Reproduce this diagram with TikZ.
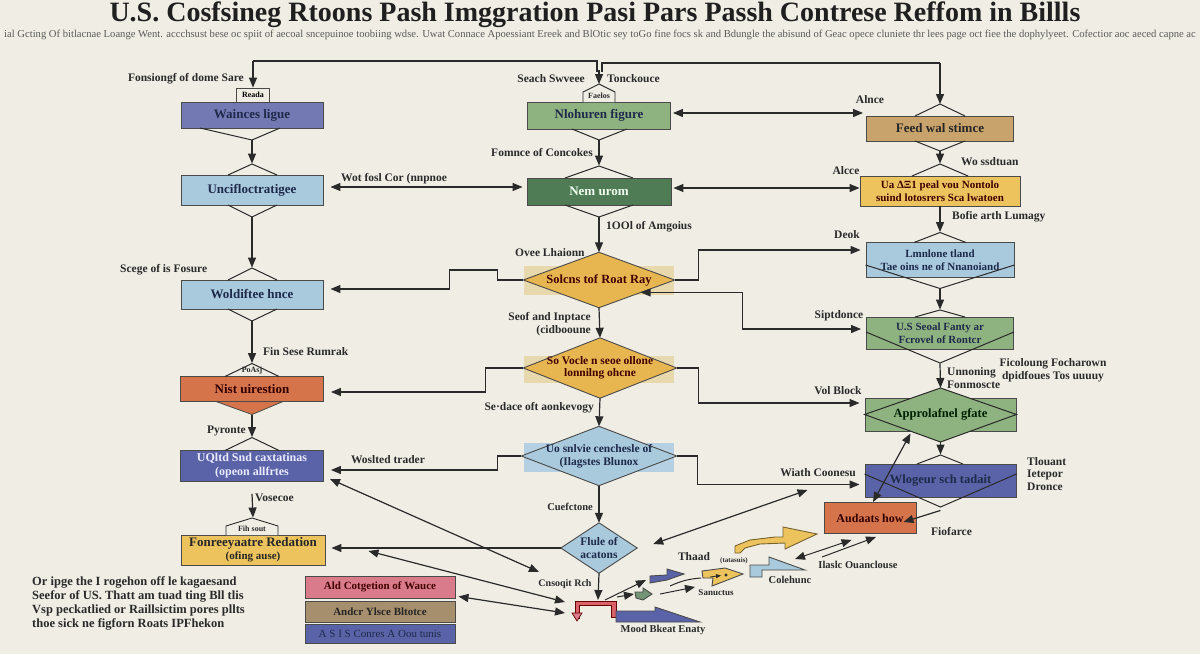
\documentclass[tikz,border=0pt]{standalone}
\usepackage{fontspec}
\setmainfont{Liberation Serif}
\usetikzlibrary{arrows.meta,calc}
\definecolor{bg}{HTML}{EFEDE4}
\definecolor{ink}{HTML}{2A2A2A}
\definecolor{boxline}{HTML}{4A4A48}
\definecolor{navytext}{HTML}{1E2A4A}
\definecolor{cnavy}{HTML}{7379B2}
\definecolor{lblue}{HTML}{A9C9DD}
\definecolor{lgreen}{HTML}{8FB380}
\definecolor{dgreen}{HTML}{4F7B55}
\definecolor{gold}{HTML}{E8B650}
\definecolor{goldbg}{HTML}{E7D8AE}
\definecolor{bluebg}{HTML}{B5D0E2}
\definecolor{tanc}{HTML}{C8A36B}
\definecolor{yel}{HTML}{ECC35D}
\definecolor{orng}{HTML}{D5744B}
\definecolor{bpur}{HTML}{5A63A7}
\definecolor{pinkc}{HTML}{DA7B8C}
\definecolor{brwn}{HTML}{A68F6D}
\definecolor{redb}{HTML}{D9626A}
\definecolor{subt}{HTML}{5A5A58}
\begin{document}
\begin{tikzpicture}[x=1pt,y=-1pt,
  lab/.style={font=\fontsize{11.5}{13}\selectfont\bfseries, text=ink, inner sep=0pt, align=left},
  slab/.style={font=\fontsize{9}{10}\selectfont\bfseries, text=ink, inner sep=0pt},
  box/.style={draw=boxline, line width=0.9pt, inner sep=0pt, align=center, font=\fontsize{13}{15}\selectfont\bfseries, text=navytext},
  sbox/.style={box, font=\fontsize{11}{12.5}\selectfont\bfseries},
  holder/.style={inner sep=0pt},
  dtext/.style={align=center, font=\fontsize{12.5}{14}\selectfont\bfseries, text=navytext, inner sep=0pt},
  arr/.style={draw=ink, line width=1.2pt, -{Triangle[length=10pt,width=8pt]}},
  darr/.style={draw=ink, line width=1.2pt, {Triangle[length=10pt,width=8pt]}-{Triangle[length=10pt,width=8pt]}},
  ln/.style={draw=ink, line width=1.2pt},
  chev/.style={draw=ink, line width=1pt},
  shp/.style={draw=boxline, line width=0.9pt},
]
\useasboundingbox (0,0) rectangle (1200,654);
\fill[bg] (0,0) rectangle (1200,654);

% title and subtitle
\node[font=\fontsize{28}{30}\selectfont\bfseries, text=black!88, anchor=base, inner sep=0pt] (title) at (595,21)
  {U.S. Cosfsineg Rtoons Pash Imggration Pasi Pars Passh Contrese Reffom in Billls};
\node[font=\fontsize{10.6}{11}\selectfont, text=subt, inner sep=0pt] (sub) at (600,35)
  {ial Gcting Of bitlacnae Loange Went. accchsust bese oc spiit of aecoal sncepuinoe toobiing wdse. Uwat Connace Apoessiant Ereek and BlOtic sey toGo fine focs sk and Bdungle the abisund of Geac opece cluniete thr lees page oct fiee the dophylyeet. Cofectior aoc aeced capne ac};

% ---------------- left column
\node[box, fill=cnavy, minimum width=142pt, minimum height=26pt] (b1) at (252,115) {Wainces ligue};
\node[box, fill=lblue, minimum width=142pt, minimum height=30pt] (b2) at (252,190) {Uncifloctratigee};
\node[box, fill=lblue, minimum width=142pt, minimum height=29pt] (b3) at (252,294.5) {Woldiftee hnce};
\node[box, fill=orng, text=black!80!red, minimum width=143pt, minimum height=25pt] (b4) at (252,389) {Nist uirestion};
\node[box, fill=bpur, text=white!92!blue, font=\fontsize{12}{14}\selectfont\bfseries, minimum width=143pt, minimum height=31pt] (b5) at (252,466) {UQltd Snd caxtatinas\\(opeon allfrtes};
\node[box, fill=yel, text=black!85, minimum width=144pt, minimum height=30pt] (b6) at (253,550) {Fonreeyaatre Redation\\[-2pt]{\fontsize{11}{12}\selectfont(ofing ause)}};

\node[draw=boxline, line width=0.8pt, fill=bg, minimum width=33pt, minimum height=14pt, inner sep=0pt, font=\fontsize{8}{9}\selectfont\bfseries] (tabL) at (253,95) {Reada};

\draw[chev] (200,128)--(252,140)--(280,128);
\draw[chev] (228,175)--(252,164)--(277,175);
\draw[chev] (228,205)--(252,217)--(277,205);
\draw[chev] (228,280)--(252,268)--(277,280);
\draw[chev] (228,309)--(252,321)--(277,309);
\draw[chev] (225,376.5)--(252,363.5)--(279,376.5);
\node[slab, font=\fontsize{8}{9}\selectfont\bfseries] (roofL) at (252,371) {PoAsj};
\filldraw[fill=orng, draw=boxline, line width=0.8pt] (216,401.5)--(252,414.5)--(283,401.5)--cycle;
\draw[chev] (225,450.5)--(252,437.5)--(279,450.5);
\filldraw[fill=bg, draw=ink, line width=0.9pt] (226,535)--(226,526)--(252,518)--(278,526)--(278,535);
\node[slab, font=\fontsize{8}{9}\selectfont\bfseries] (tabF) at (252,528.5) {Fih sout};

\draw[arr] ($(b1.south)+(0,12)$) -- ($(b2.north)+(0,-11)$);
\draw[arr] ($(b2.south)+(0,12)$) -- ($(b3.north)+(0,-12)$);
\draw[arr] ($(b3.south)+(0,12)$) -- ($(b4.north)+(0,-13)$);
\draw[arr] ($(b4.south)+(0,13)$) -- ($(b5.north)+(0,-13)$);
\draw[arr] ($(b5.south)+(0,12)$) -- ($(b6.north)+(0,-17)$);

% ---------------- middle column
\node[box, fill=lgreen, minimum width=143pt, minimum height=27pt] (m1) at (599,115.5) {Nlohuren figure};
\node[box, fill=dgreen, text=white!94!green, minimum width=144pt, minimum height=27pt] (m2) at (599,191.5) {Nem urom};
\filldraw[fill=bg, draw=ink, line width=0.9pt] (583,102)--(583,92)--(599,84)--(615,92)--(615,102);
\coordinate (tm) at (599,84);
\node[slab, font=\fontsize{8}{9}\selectfont\bfseries] (tabM) at (599,95.5) {Faelos};
\draw[chev] (572,129)--(599,140)--(627,129);
\draw[chev] (565,178)--(599,166)--(633,178);
\draw[chev] (565,205)--(599,217)--(633,205);

\node[holder, minimum width=151pt, minimum height=55pt] (d1) at (599,280) {};
\node[holder, minimum width=153pt, minimum height=60pt] (d2) at (600,368) {};
\node[holder, minimum width=155pt, minimum height=59pt] (d3) at (599,456) {};
\node[holder, minimum width=76pt, minimum height=50pt] (d4) at (599,548) {};
\fill[goldbg] (524,266) rectangle (674,295);
\fill[goldbg] (524,356) rectangle (674,383);
\fill[bluebg] (524,443) rectangle (674,472);
\filldraw[fill=gold, shp] (d1.west)--(d1.north)--(d1.east)--(d1.south)--cycle;
\filldraw[fill=gold, shp] (d2.west)--(d2.north)--(d2.east)--(d2.south)--cycle;
\filldraw[fill=lblue, shp] (d3.west)--(d3.north)--(d3.east)--(d3.south)--cycle;
\filldraw[fill=lblue, shp] (d4.west)--(d4.north)--(d4.east)--(d4.south)--cycle;
\node[dtext, text=black!75!red] at (d1) {Solcns tof Roat Ray};
\node[dtext, text=black!75!red, font=\fontsize{11.5}{12.5}\selectfont\bfseries] at (d2) {So Vocle n seoe ollone\\lonnilng ohcne};
\node[dtext, font=\fontsize{11.5}{12.5}\selectfont\bfseries] at (d3) {Uo snlvie cenchesle of\\(Ilagstes Blunox};
\node[dtext, font=\fontsize{11.5}{12.5}\selectfont\bfseries] at (d4) {Flule of\\acatons};

\draw[arr] ($(m1.south)+(0,11)$) -- ($(m2.north)+(0,-12)$);
\draw[arr] ($(m2.south)+(0,12)$) -- (d1.north);
\draw[arr] (d1.south) -- (d2.north);
\draw[arr] (d2.south) -- (d3.north);
\draw[arr] (d3.south) -- (d4.north);

% ---------------- right column
\node[box, fill=tanc, text=black!85, minimum width=147pt, minimum height=25pt] (r1) at (940,128.5) {Feed wal stimce};
\node[sbox, fill=yel, text=black!75!red, minimum width=160pt, minimum height=30pt] (r2) at (940,191) {Ua ΔΞ1 peal vou Nontolo\\suind lotosrers Sca lwatoen};
\node[sbox, fill=lblue, minimum width=148pt, minimum height=35pt] (r3) at (940,260) {Lmnlone tland\\Tae oins ne of Nnanoiand};
\node[sbox, fill=lgreen, minimum width=147pt, minimum height=32pt] (r4) at (940,333) {U.S Seoal Fanty ar\\Fcrovel of Rontcr};
\node[box, fill=lgreen, minimum width=151pt, minimum height=33pt] (r5) at (940.5,414.5) {};
\node[box, fill=bpur, minimum width=151pt, minimum height=33pt] (r6) at (940.5,480.5) {};
\node[box, fill=orng, text=black!80!red, font=\fontsize{12}{14}\selectfont\bfseries, minimum width=92pt, minimum height=31pt] (r7) at (870,518) {Audaats how};
\coordinate (tr) at (940,104);

\draw[chev] (915,116)--(940,104)--(965,116);
\draw[chev] (915,141)--(940,151)--(965,141);
\draw[chev] (912,176)--(940,164)--(968,176);
\draw[chev] (914,242.5)--(940,232.5)--(966,242.5);
\draw[chev] (r3.west |- 0,265)--(940,288.5)--(r3.east |- 0,265);
\draw[chev] (915,317)--(940,310)--(965,317);
\draw[chev] (r4.west |- 0,332)--(940,363)--(r4.east |- 0,332);
\filldraw[fill=lgreen, draw=ink, line width=1pt] (r5.west)--(940.5,388)--(r5.east)--(940.5,442)--cycle;
\node[dtext, text=black!80!green!60!black] at (r5) {Approlafnel gfate};
\draw[chev] (917,464)--(940.5,455)--(963,464);
\draw[chev] (r6.west |- 0,474)--(940.5,507)--(r6.east |- 0,474);
\node[dtext, text=navytext] at (r6) {Wlogeur sch tadait};

\draw[arr] ($(r1.south)+(0,10)$) -- ($(r2.north)+(0,-12)$);
\draw[arr] (r2.south) -- ($(r3.north)+(0,-10)$);
\draw[arr] ($(r3.south)+(0,11)$) -- ($(r4.north)+(0,-7)$);
\draw[arr] ($(r4.south)+(0,14)$) -- (940.5,388);
\draw[arr] ($(r5.south)+(0,11)$) -- ($(r6.north)+(0,-9)$);
\draw[arr] ($(r6.south)+(0,13)$) -- ($(r7.east)+(-13,4)$);
\draw[darr] ($(r7.north)+(3,0)$) -- ($(r5.south)+(-30,2)$);

% ---------------- top bus
\draw[ln] ($(tm)+(-2,-12)$) |- (253,61);
\draw[arr] (253,61) -- (tabL.north);
\draw[ln] ($(tm)+(3,-12)$) |- (940,63);
\draw[arr] (940,63) -- (tr);
\draw[arr] ($(tm)+(0,-14)$) -- (tm);

% ---------------- horizontal connectors
\draw[darr] ($(m1.east)+(2,-2.5)$) -- ($(r1.west)+(-3,-15.5)$);
\draw[darr] ($(b2.east)+(7,-3)$) -- ($(m2.west)+(-4,-4.5)$);
\draw[darr] ($(m2.east)+(2,-3.5)$) -- ($(r2.west)+(0,-3)$);
\draw[arr] (d1.west) -- ++(-26,0) -- ++(0,-10) -- ++(-48,0) -- ++(0,19) -- ($(b3.east)+(7,-5.5)$);
\draw[arr] (d1.east) -- ++(24,0) |- ($(r3.west)+(-5,-10)$);
\draw[darr] ($(d1.east)!0.45!(d1.south)$) -- ++(102,0) |- ($(r4.west)+(-5,-4)$);
\draw[arr] (d2.west) -- ++(-38,0) |- ($(b4.east)+(7,3)$);
\draw[arr] (d2.east) -- ++(22,0) |- ($(r5.west)+(-5,-11.5)$);
\draw[arr] (d3.west) -- ++(-24,0) |- ($(b5.east)+(7,4)$);
\draw[arr] (d3.east) -- ++(21,0) |- ($(r6.west)+(-5,4)$);
\draw[arr] (d4.west) -- ($(d4.west -| b6.east)+(6,0)$);
\draw[darr] ($(d4.east)+(16,-4)$) -- ($(r7.west)+(-16,-28)$);

% ---------------- legend boxes
\node[box, fill=pinkc, text=black!75!red, font=\fontsize{11}{12}\selectfont\bfseries, minimum width=150pt, minimum height=22pt] (g1) at (380,587) {Ald Cotgetion of Wauce};
\node[box, fill=brwn, text=black!85, font=\fontsize{11}{12}\selectfont\bfseries, minimum width=150pt, minimum height=21pt] (g2) at (380,611.5) {Andcr Ylsce Bltotce};
\node[box, fill=bpur, text=navytext, font=\fontsize{11}{12}\selectfont, minimum width=150pt, minimum height=19pt] (g3) at (380,633.5) {A S I S Conres A Oou tunis};

\node[font=\fontsize{12.5}{14}\selectfont\bfseries, text=ink, align=left, anchor=north west, inner sep=0pt] (para) at (32,576)
 {Or ipge the I rogehon off le kagaesand\\Seefor of US. Thatt am tuad ting Bll tlis\\Vsp peckatlied or Raillsictim pores pllts\\thoe sick ne figforn Roats IPFhekon};

% ---------------- bottom shapes
\coordinate (cA) at (539,572);
\coordinate (cB) at (565,602);
\coordinate (cC) at (565,613);
\coordinate (brk) at (598,600);
\filldraw[fill=redb, draw=black!60!red, line width=0.8pt] (575,618)--(575,601)--(616,601)--(616,617)--(611,617)--(611,605)--(579,605)--(579,618)--cycle;
\filldraw[fill=pinkc, draw=black!60!red, line width=0.7pt] (572,613)--(582,613)--(577,621)--cycle;
\filldraw[fill=bpur, shp] (616,611)--(655,611)--(655,607)--(700,622)--(616,622)--cycle;
\filldraw[fill=bpur, shp] (650,576)--(667,575)--(667,569)--(684,574)--(667,580)--(650,583)--cycle;
\filldraw[fill=dgreen!80!white, shp] (635,592)--(643,592)--(643,588)--(652,594)--(643,600)--(636,598)--cycle;
\filldraw[fill=yel, shp] (702,571)--(725,568)--(743,574)--(712,586)--(713,578)--(703,578)--cycle;
\draw[-{Triangle[length=5pt,width=4pt]}, line width=0.8pt, ink] (710,577)--(721,575.5);
\fill[ink] (726,575) circle (1.6);
\filldraw[fill=lblue, shp] (750,565)--(769,565)--(769,557)--(805,570)--(762,570)--(762,577)--(750,577)--cycle;
\filldraw[fill=yel, draw=black!50!yel, line width=0.9pt] (735,553)--(735,546)--(750,540)--(775,537)--(783,537)--(783,527)--(817,534)--(785,549)--(785,543)--(760,544)--(745,548)--(740,553)--cycle;

\draw[arr] (d4.south) -- (brk);
\draw[darr] ($(b5.south east)+(6,-3)$) -- (cA);
\draw[darr] ($(b6.east)+(43,1)$) -- (cB);
\draw[darr] ($(g1.south east)+(3,-2)$) -- (cC);
\draw[arr, line width=1pt] ($(brk)+(7,0)$) -- (646,580);
\draw[arr, line width=1pt] ($(brk)+(19,-3)$) -- (634,594);
\draw[arr, line width=1pt] (660,594) -- (695,587);
\draw[ln, line width=1pt] (670,586) to[bend left=10] (701,578);
\draw[darr, line width=1pt] (795,559) -- ($(r7.south west)+(28,6)$);
\draw[arr, line width=1pt] (822,557) -- ($(r7.south)+(6,3)$);

% ---------------- labels
\node[lab, anchor=east] (l1) at (244,79) {Fonsiongf of dome Sare};
\node[lab, anchor=east] (l2) at (585,79) {Seach Swveee};
\node[lab, anchor=west] (l3) at (607,79) {Tonckouce};
\node[lab] (l4) at (870,100) {Alnce};
\node[lab, anchor=west] (l5) at (341,179) {Wot fosl Cor (nnpnoe};
\node[lab, anchor=east] (l6) at (593,153) {Fomnce of Concokes};
\node[lab] (l7) at (846,171) {Alcce};
\node[lab, anchor=west] (l8) at (961,162) {Wo ssdtuan};
\node[lab, anchor=west] (l9) at (606,227) {1OOl of Amgoius};
\node[lab, anchor=west] (l10) at (952,217) {Bofie arth Lumagy};
\node[lab, anchor=west] (l11) at (515,253) {Ovee Lhaionn};
\node[lab] (l12) at (847,235) {Deok};
\node[lab, anchor=west] (l13) at (120,270) {Scege of is Fosure};
\node[lab, anchor=east, align=right] (l14) at (591,324) {Seof and Inptace\\(cidbooune};
\node[lab] (l15) at (839,316) {Siptdonce};
\node[lab, anchor=west] (l16) at (263,352) {Fin Sese Rumrak};
\node[lab, anchor=east] (l17) at (594,408) {Se·dace oft aonkevogy};
\node[lab] (l18) at (838,391) {Vol Block};
\node[lab, anchor=west] (l19) at (947,378) {Unnoning\\Fonmoscte};
\node[lab, align=center] (l20) at (1053,370) {Ficoloung Focharown\\dpidfoues Tos uuuuy};
\node[lab, anchor=east] (l21) at (246,431) {Pyronte};
\node[lab] (l22) at (388,460) {Woslted trader};
\node[lab] (l23) at (818,473) {Wiath Coonesu};
\node[lab, anchor=west, font=\fontsize{11.5}{12.5}\selectfont\bfseries] (l24) at (1027,474) {Tlouant\\Ietepor\\Dronce};
\node[lab, anchor=west] (l25) at (255,498) {Vosecoe};
\node[lab, anchor=east, font=\fontsize{10.5}{12}\selectfont\bfseries] (l26) at (593,507) {Cuefctone};
\node[lab, anchor=west] (l27) at (931,531) {Fiofarce};
\node[lab, font=\fontsize{10}{12}\selectfont\bfseries] (l28) at (565,584) {Cnsoqit Rch};
\node[lab] (l29) at (694,557) {Thaad};
\node[slab, font=\fontsize{7}{8}\selectfont\bfseries] (l30) at (734,561) {(tatasuis)};
\node[slab] (l31) at (716,593) {Sanuctus};
\node[lab, font=\fontsize{10.5}{12}\selectfont\bfseries] (l32) at (790,580) {Colehunc};
\node[lab, font=\fontsize{10.5}{12}\selectfont\bfseries] (l33) at (858,565) {Ilaslc Ouanclouse};
\node[lab, font=\fontsize{10.5}{12}\selectfont\bfseries] (l34) at (663,630) {Mood Bkeat Enaty};
\end{tikzpicture}
\end{document}
